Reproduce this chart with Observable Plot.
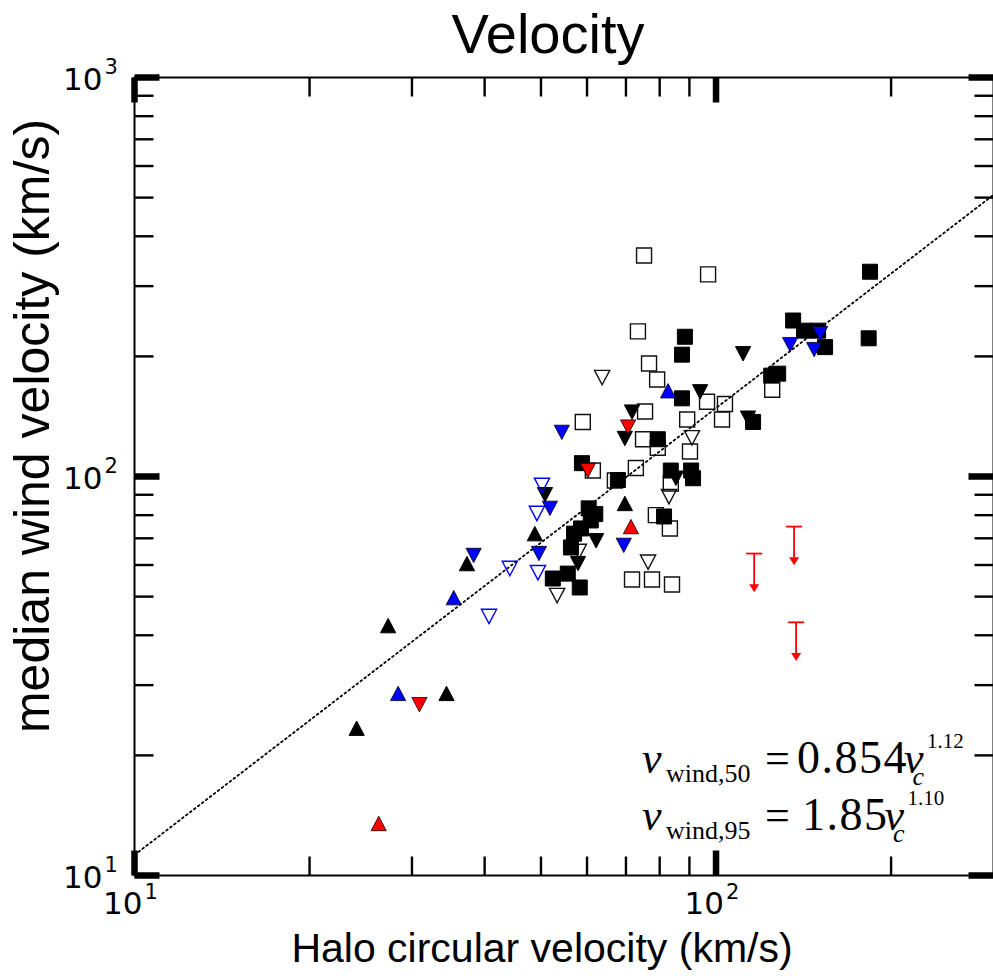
<!DOCTYPE html>
<html>
<head>
<meta charset="utf-8">
<script src="https://cdn.jsdelivr.net/npm/d3@7"></script>
<script src="https://cdn.jsdelivr.net/npm/@observablehq/plot@0.6"></script>
<style>
  html, body { margin: 0; padding: 0; background: #fff; overflow: hidden; }
</style>
</head>
<body>
<div id="chart"></div>
<script>
// Median wind velocity against halo circular velocity, [vc (km/s), vwind (km/s)] pairs per sample.
const filledSquares = [
  [88.4, 224], [87.4, 202], [87.4, 157], [79.4, 124], [58.8, 108], [67.8, 98],
  [83.6, 103.5], [90.6, 103.5], [91.3, 99], [81.4, 79.4], [60.4, 83.2], [62.0, 80.5],
  [60.9, 77.6], [58.6, 74.1], [57.0, 71.9], [56.3, 66.4], [52.4, 55.5], [55.6, 57.1],
  [58.3, 52.7], [184, 326], [183, 222], [135.7, 246], [141.7, 232], [149.8, 232],
  [154, 211], [127.9, 181], [124.4, 179], [115.8, 137]
];
const openSquares = [
  [75.2, 358], [96.9, 321], [73.4, 231], [76.7, 192], [79.2, 175], [96.5, 154],
  [103.6, 152], [102.4, 139], [75.5, 145.5], [89.2, 139], [59.0, 137], [74.9, 124],
  [79.4, 118], [90.2, 115.5], [61.4, 103.5], [72.8, 105], [67.0, 97.7], [83.6, 96],
  [78.8, 80], [83.3, 74.1], [71.7, 55.2], [77.6, 55.2], [84.0, 53.6], [124.9, 165]
];
const blackDown = [
  [93.9, 163], [71.7, 145], [69.7, 124.5], [85.3, 99], [50.8, 90], [62.2, 69],
  [57.9, 60.5], [111.3, 203], [113.5, 140]
];
const blackUp = [[69.7, 85.6], [48.8, 71.9], [37.3, 60.5], [27.3, 42.3], [34.4, 28.6], [24.1, 23.4]];
const openDown = [[63.7, 177], [90.9, 125], [83.0, 89], [76.4, 61], [53.3, 50.3], [58.1, 64.9]];
const blueDown = [
  [54.3, 129], [51.8, 83.2], [49.6, 64.1], [69.4, 67.2], [38.3, 63.4],
  [151, 228], [134.1, 214], [147.5, 208]
];
const blueUp = [[82.7, 164], [35.4, 49.7], [28.4, 28.6]];
const blueOpenDown = [[50.2, 95], [49.2, 80.8], [44.2, 58.8], [49.4, 57.4], [40.7, 44.6]];
const redDown = [[70.6, 133], [60.2, 103.5], [30.9, 26.8]];
const redUp = [[71.4, 74.9], [26.3, 13.5]];
const redUpperLimits = [[116.3, 64.1], [136.2, 74.9], [137.3, 43.1]];

// Power-law fits v_wind = a * v_c^b
const fit50 = {a: 0.854, b: 1.12, label: "wind,50", coef: "0.854", exp: "1.12"};
const fit95 = {a: 1.85, b: 1.10, label: "wind,95", coef: "1.85", exp: "1.10"};

// Axis domains and ticks
const xDomain = [10, 300];
const yDomain = [10, 1000];
const xMajor = [10, 100];
const xMinor = [20, 30, 40, 50, 60, 70, 80, 90, 200];
const yMajor = [10, 100, 1000];
const yMinor = [20, 30, 40, 50, 60, 70, 80, 90, 200, 300, 400, 500, 600, 700, 800, 900];

// ---- marker shapes (pixel geometry) ----
const square = {draw(c) { c.moveTo(-7.5, -7.5); c.lineTo(7.5, -7.5); c.lineTo(7.5, 7.5); c.lineTo(-7.5, 7.5); c.closePath(); }};
const triUp = {draw(c) { c.moveTo(0, -7.2); c.lineTo(7.6, 7.2); c.lineTo(-7.6, 7.2); c.closePath(); }};
const triDown = {draw(c) { c.moveTo(0, 7.2); c.lineTo(7.6, -7.2); c.lineTo(-7.6, -7.2); c.closePath(); }};
const capBar = {draw(c) { c.moveTo(-8, 0); c.lineTo(8, 0); }};
const arrowHead = {draw(c) { c.moveTo(0, 0); c.lineTo(-5, -8); c.lineTo(5, -8); c.closePath(); }};
const segment = (dx, dy) => ({draw(c) { c.moveTo(0, 0); c.lineTo(dx, dy); }});

const MAJ = 25, MIN = 19;
const tickMarks = [
  Plot.dot(xMinor, {x: d => d, frameAnchor: "bottom", symbol: segment(0, -MIN), stroke: "black", strokeWidth: 2.4, fill: "none"}),
  Plot.dot(xMinor, {x: d => d, frameAnchor: "top", symbol: segment(0, MIN), stroke: "black", strokeWidth: 2.4, fill: "none"}),
  Plot.dot(yMinor, {y: d => d, frameAnchor: "left", symbol: segment(MIN, 0), stroke: "black", strokeWidth: 2.4, fill: "none"}),
  Plot.dot(yMinor, {y: d => d, frameAnchor: "right", symbol: segment(-MIN, 0), stroke: "black", strokeWidth: 2.4, fill: "none"}),
  Plot.dot(xMajor, {x: d => d, frameAnchor: "bottom", symbol: segment(0, -MAJ), stroke: "black", strokeWidth: 6.5, fill: "none"}),
  Plot.dot(xMajor, {x: d => d, frameAnchor: "top", symbol: segment(0, MAJ), stroke: "black", strokeWidth: 6.5, fill: "none"}),
  Plot.dot(yMajor, {y: d => d, frameAnchor: "left", symbol: segment(MAJ, 0), stroke: "black", strokeWidth: 6.5, fill: "none"}),
  Plot.dot(yMajor, {y: d => d, frameAnchor: "right", symbol: segment(-MAJ, 0), stroke: "black", strokeWidth: 6.5, fill: "none"})
];

const expOf = d => String(Math.round(Math.log10(d)));
const tickFont = "DejaVu Sans, sans-serif";
const tickLabels = [
  Plot.text(yMajor, {y: d => d, frameAnchor: "left", lineAnchor: "middle", text: () => "10", textAnchor: "end", dx: -32, dy: 3, fontSize: 31, fontFamily: tickFont, fill: "black"}),
  Plot.text(yMajor, {y: d => d, frameAnchor: "left", lineAnchor: "middle", text: expOf, textAnchor: "start", dx: -30, dy: -10, fontSize: 21, fontFamily: tickFont, fill: "black"}),
  Plot.text(xMajor, {x: d => d, frameAnchor: "bottom", lineAnchor: "middle", text: () => "10", textAnchor: "end", dx: 8, dy: 29, fontSize: 31, fontFamily: tickFont, fill: "black"}),
  Plot.text(xMajor, {x: d => d, frameAnchor: "bottom", lineAnchor: "middle", text: expOf, textAnchor: "start", dx: 10, dy: 17, fontSize: 21, fontFamily: tickFont, fill: "black"})
];

const fitLine = xDomain.map(v => ({vc: v, vw: fit50.a * Math.pow(v, fit50.b)}));
const X = d => d[0], Y = d => d[1];

const chart = Plot.plot({
  width: 993,
  height: 976,
  marginLeft: 134,
  marginRight: 0,
  marginTop: 77,
  marginBottom: 101,
  style: {background: "white", overflow: "visible"},
  x: {type: "log", domain: xDomain, axis: null},
  y: {type: "log", domain: yDomain, axis: null},
  marks: [
    Plot.frame({stroke: "black", strokeWidth: 2}),
    ...tickMarks,
    Plot.line(fitLine, {x: "vc", y: "vw", stroke: "black", strokeWidth: 1.8, strokeDasharray: "1.8,3.2"}),
    Plot.dot(openSquares, {x: X, y: Y, symbol: square, fill: "none", stroke: "#111", strokeWidth: 1.4}),
    Plot.dot(openDown, {x: X, y: Y, symbol: triDown, fill: "none", stroke: "#111", strokeWidth: 1.4}),
    Plot.dot(filledSquares, {x: X, y: Y, symbol: square, fill: "black", stroke: "black", strokeWidth: 1}),
    Plot.dot(blackDown, {x: X, y: Y, symbol: triDown, fill: "black", stroke: "black", strokeWidth: 1}),
    Plot.dot(blackUp, {x: X, y: Y, symbol: triUp, fill: "black", stroke: "black", strokeWidth: 1}),
    Plot.dot(blueOpenDown, {x: X, y: Y, symbol: triDown, fill: "none", stroke: "#0000ff", strokeWidth: 1.4}),
    Plot.dot(blueDown, {x: X, y: Y, symbol: triDown, fill: "#0000ff", stroke: "#000", strokeWidth: 0.8}),
    Plot.dot(blueUp, {x: X, y: Y, symbol: triUp, fill: "#0000ff", stroke: "#000", strokeWidth: 0.8}),
    Plot.dot(redDown, {x: X, y: Y, symbol: triDown, fill: "#ff0000", stroke: "#000", strokeWidth: 0.8}),
    Plot.dot(redUp, {x: X, y: Y, symbol: triUp, fill: "#ff0000", stroke: "#000", strokeWidth: 0.8}),
    // upper limits: bar at the limit, arrow pointing down
    Plot.ruleX(redUpperLimits, {x: X, y1: Y, y2: d => d[1] * 0.82, stroke: "#ff0000", strokeWidth: 1.8}),
    Plot.dot(redUpperLimits, {x: X, y: Y, symbol: capBar, fill: "none", stroke: "#ff0000", strokeWidth: 1.8}),
    Plot.dot(redUpperLimits, {x: X, y: d => d[1] * 0.8, symbol: arrowHead, fill: "#ff0000", stroke: "none"}),
    ...tickLabels
  ]
});

document.getElementById("chart").appendChild(chart);

// Titles and fit annotations
const svg = d3.select(chart);
const sans = "Liberation Sans, Arial, Helvetica, sans-serif";
const serif = "Liberation Serif, Times New Roman, serif";

svg.append("text")
  .attr("x", 548).attr("y", 53)
  .attr("text-anchor", "middle")
  .attr("font-family", sans).attr("font-size", 56).attr("fill", "black")
  .text("Velocity");

svg.append("text")
  .attr("x", 542).attr("y", 962)
  .attr("text-anchor", "middle")
  .attr("font-family", sans).attr("font-size", 41).attr("fill", "black")
  .text("Halo circular velocity (km/s)");

svg.append("text")
  .attr("transform", "translate(49,426) rotate(-90)")
  .attr("text-anchor", "middle")
  .attr("font-family", sans).attr("font-size", 50).attr("fill", "black")
  .text("median wind velocity (km/s)");

function fitLabel(fit, baseline, coefX) {
  const t = svg.append("text")
    .attr("y", baseline)
    .attr("text-anchor", "start")
    .attr("font-family", serif).attr("font-size", 44).attr("fill", "black");
  t.append("tspan").attr("x", 642).attr("font-style", "italic").text("v");
  t.append("tspan").attr("x", 666).attr("dy", 9).attr("font-size", 26).text(fit.label);
  t.append("tspan").attr("x", 765).attr("dy", -9).text("=");
  t.append("tspan").attr("x", coefX).attr("font-size", 46).attr("letter-spacing", 1.5).text(fit.coef);
  t.append("tspan").attr("dx", -4).attr("font-style", "italic").text("v");
  t.append("tspan").attr("dx", -11).attr("dy", 12).attr("font-size", 26).attr("font-style", "italic").text("c");
  t.append("tspan").attr("dx", 3).attr("dy", -37).attr("font-size", 21).text(fit.exp);
}
fitLabel(fit50, 773, 797);
fitLabel(fit95, 830, 802);
</script>
</body>
</html>
